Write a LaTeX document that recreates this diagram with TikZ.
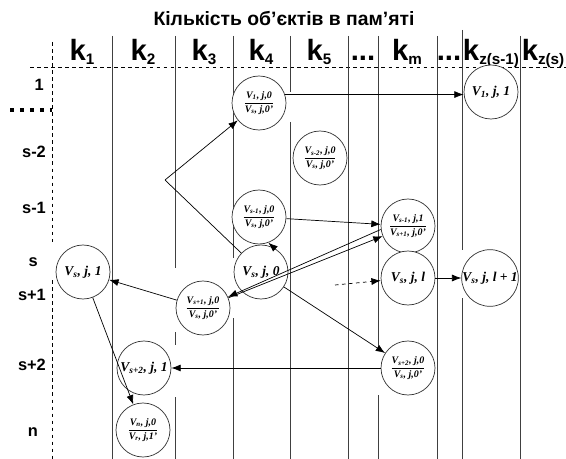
\documentclass[tikz,border=0pt]{standalone}
\usepackage{fontspec}
\setmainfont{Liberation Serif}
\setsansfont{Liberation Sans}
\usepackage{amsmath}
\usetikzlibrary{arrows.meta}

\newcommand{\vv}[2]{{\bfseries\itshape V\textsubscript{#1}, #2}}
\newcommand{\vfr}[4]{$\dfrac{\text{\vv{#1}{#2}}}{\text{\vv{#3}{#4}}}$}
\newcommand{\hsub}[1]{\raisebox{-3pt}{\fontsize{13}{13}\selectfont #1}}

\tikzset{
	obj/.style={circle, draw=black!80, semithick, fill=white, minimum size=1.62cm, inner sep=0pt, font=\fontsize{11.5}{12}\selectfont},
	objfr/.style={obj, font=\fontsize{8.5}{9}\selectfont},
	hdr/.style={font=\sffamily\bfseries\fontsize{25}{25}\selectfont, anchor=base, inner sep=0pt},
	rowlbl/.style={font=\sffamily\bfseries\fontsize{14}{14}\selectfont, anchor=east},
	arr/.style={-{Latex[length=8pt,width=6pt]}, semithick},
	sep/.style={black!75, semithick}
}

\begin{document}
\begin{tikzpicture}[x=0.03cm, y=-0.03cm]
	\useasboundingbox (0,0) rectangle (566,459);
	
	%title and header
	\node[font=\sffamily\bfseries\fontsize{16.5}{16.5}\selectfont] (title) at (284,19) {Кількість об'єктів в пам'яті};
	\node[hdr] (h1) at (82,61) {k\hsub{1}};
	\node[hdr] (h2) at (143,61) {k\hsub{2}};
	\node[hdr] (h3) at (204,61) {k\hsub{3}};
	\node[hdr] (h4) at (261,61) {k\hsub{4}};
	\node[hdr] (h5) at (319,61) {k\hsub{5}};
	\node[hdr] (hd1) at (363,61) {...};
	\node[hdr] (hm) at (407,61) {k\hsub{m}};
	\node[hdr] (hd2) at (449,61) {...};
	\node[hdr] (hz1) at (491,61) {k\hsub{z(s-1)}};
	\node[hdr] (hz) at (543,61) {k\hsub{z(s)}};
	\draw[dashed, thick] (30,67) -- (566,67);
	\draw[dashed, thick] (52,42) -- (52,242);
	\draw[dashed, thick] (52,280) -- (52,459);
	
	%column lines
	\foreach \x in {112,348,437,520}
		\draw[sep] (\x,36) -- (\x,459);
	\draw[sep] (175,36) -- (175,268) (175,332) -- (175,345) (175,397) -- (175,459);
	\draw[sep] (233,36) -- (233,258) (233,318) -- (233,459);
	\draw[sep] (290,36) -- (290,92) (290,122) -- (290,459);
	\draw[sep] (378,36) -- (378,347) (378,395) -- (378,459);
	\draw[sep] (462,30) -- (462,250) (462,298) -- (462,459);
	
	%row labels
	\node[rowlbl] (r1) at (48,85) {1};
	\draw[line width=3.5pt, dash pattern=on 3.5pt off 5pt] (10,110) -- (52,110);
	\node[rowlbl] (r2) at (50,152) {s-2};
	\node[rowlbl] (r3) at (50,208) {s-1};
	\node[rowlbl] (r4) at (42,262) {s};
	\node[rowlbl] (r5) at (50,295) {s+1};
	\node[rowlbl] (r6) at (50,365) {s+2};
	\node[rowlbl] (r7) at (42,432) {n};
	
	%objects
	\node[objfr] (a1) at (259,103) {\vfr{1}{j,0}{s}{j,0'}};
	\node[obj] (a2) at (491,92) {\vv{1}{j, 1}};
	\node[objfr] (b1) at (320,158) {\vfr{s-2}{j,0}{s}{j,0'}};
	\node[objfr] (c1) at (259,217) {\vfr{s-1}{j,0}{s}{j,0'}};
	\node[objfr] (c2) at (408,226) {\vfr{s-1}{j,1}{s+1}{j,0'}};
	\node[obj] (d1) at (83,272) {\vv{s}{j, 1}};
	\node[obj] (d2) at (261,272) {\vv{s}{j, 0}};
	\node[obj] (d3) at (408,278) {\vv{s}{j, l}};
	\node[obj] (d4) at (490,278) {\vv{s}{j, l + 1}};
	\node[objfr] (e1) at (203,308) {\vfr{s+1}{j,0}{s}{j,0'}};
	\node[obj] (f1) at (144,368) {\vv{s+2}{j, 1}};
	\node[objfr] (f2) at (408,368) {\vfr{s+2}{j,0}{s}{j,0'}};
	\node[objfr] (g1) at (143,430) {\vfr{n}{j,0}{r}{j,1'}};
	
	%arrows
	\coordinate (bend) at (165,180);
	\coordinate (dash) at (335,285);
	\draw[semithick] (d2) -- (bend);
	\draw[arr] (bend) -- (a1);
	\draw[arr] (a1.18) -- (a1.18 -| a2.west);
	\draw[arr] (d2.60) -- (c1.-70);
	\draw[arr] (c1) -- (c2);
	\draw[arr] ([yshift=-3pt]c2.west) -- (e1);
	\draw[arr] (e1) -- (c2);
	\draw[arr] (e1) -- (d1);
	\draw[arr] (d1) -- (g1);
	\draw[arr] (d2) -- (f2);
	\draw[arr] (f2) -- (f1);
	\draw[arr] (d3) -- (d4);
	\draw[arr, dashed] (dash) -- (d3);
\end{tikzpicture}
\end{document}
